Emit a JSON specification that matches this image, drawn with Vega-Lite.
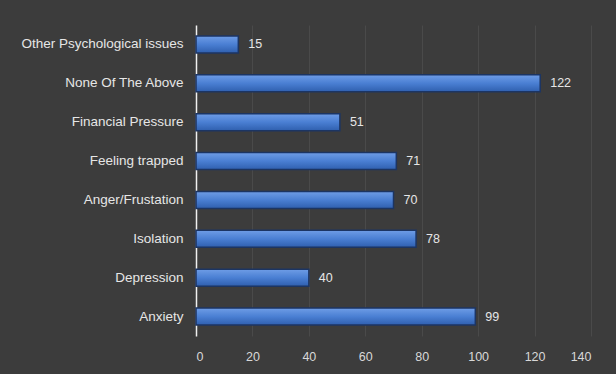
{
  "$schema": "https://vega.github.io/schema/vega-lite/v6.json",
  "autosize": "none",
  "width": 395,
  "height": 311,
  "padding": {"left": 196, "top": 25, "right": 25, "bottom": 38},
  "background": "#3c3c3c",
  "config": {
    "view": {"stroke": null},
    "font": "Liberation Sans",
    "axis": {"labelColor": "#e6e6e6", "labelFontSize": 13.5, "labelFont": "Liberation Sans"}
  },
  "data": {
    "values": [
      {"category": "Other Psychological issues", "count": 15},
      {"category": "None Of The Above", "count": 122},
      {"category": "Financial Pressure", "count": 51},
      {"category": "Feeling trapped", "count": 71},
      {"category": "Anger/Frustation", "count": 70},
      {"category": "Isolation", "count": 78},
      {"category": "Depression", "count": 40},
      {"category": "Anxiety", "count": 99}
    ]
  },
  "encoding": {
    "y": {
      "field": "category",
      "type": "nominal",
      "sort": ["Other Psychological issues", "None Of The Above", "Financial Pressure", "Feeling trapped", "Anger/Frustation", "Isolation", "Depression", "Anxiety"],
      "scale": {"paddingInner": 0.56, "paddingOuter": 0.28},
      "axis": {"title": null, "ticks": false, "domain": true, "domainColor": "#f0f0f0", "domainWidth": 1.5, "labelPadding": 13}
    },
    "x": {
      "field": "count",
      "type": "quantitative",
      "scale": {"domain": [0, 140]},
      "axis": {"title": null, "values": [0, 20, 40, 60, 80, 100, 120, 140], "ticks": false, "domain": false, "labelPadding": 14, "grid": true, "gridColor": "#5a5a5a", "gridOpacity": 0.45, "labelFontSize": 12.5, "labelColor": "#d8d8d8"}
    }
  },
  "layer": [
    {
      "mark": {
        "type": "bar",
        "stroke": "#1c3563",
        "strokeWidth": 1.5,
        "color": {
          "gradient": "linear",
          "x1": 0, "y1": 0, "x2": 0, "y2": 1,
          "stops": [
            {"offset": 0, "color": "#6f9de6"},
            {"offset": 0.5, "color": "#4a7fd3"},
            {"offset": 1, "color": "#2f5fae"}
          ]
        }
      }
    },
    {
      "mark": {"type": "text", "align": "left", "dx": 10, "fontSize": 12.5, "color": "#e6e6e6", "font": "Liberation Sans"},
      "encoding": {"text": {"field": "count", "type": "quantitative"}}
    }
  ]
}
